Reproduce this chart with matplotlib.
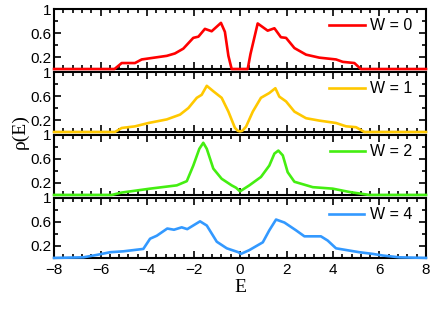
import numpy as np
import matplotlib
matplotlib.use('Agg')
import matplotlib.pyplot as plt
from matplotlib.ticker import MultipleLocator, FixedLocator

# density of states, one series per disorder W
e_w0 = [-8, -5.4, -5.09, -4.52, -4.23, -3.87, -3.15, -2.80, -2.44, -2.01,
        -1.79, -1.51, -1.22, -0.82, -0.65, -0.50, -0.36, 0.33, 0.45, 0.76,
        1.19, 1.48, 1.76, 1.98, 2.34, 2.84, 3.41, 4.13, 4.42, 4.92, 5.20, 8]
rho_w0 = [0, 0, 0.10, 0.10, 0.16, 0.18, 0.22, 0.26, 0.34, 0.52,
          0.54, 0.67, 0.63, 0.77, 0.62, 0.22, 0, 0, 0.25, 0.76,
          0.64, 0.68, 0.53, 0.52, 0.35, 0.24, 0.19, 0.16, 0.12, 0.10, 0, 0]

e_w1 = [-8, -5.38, -5.09, -4.52, -3.94, -3.15, -2.58, -2.22, -1.86, -1.65,
        -1.43, -1.15, -0.79, -0.50, -0.22, -0.1, 0.0, 0.1, 0.26, 0.55,
        0.90, 1.26, 1.52, 1.69, 1.98, 2.34, 2.84, 3.41, 4.13, 4.56, 4.99,
        5.35, 8]
rho_w1 = [0, 0, 0.067, 0.094, 0.15, 0.21, 0.29, 0.40, 0.57, 0.62,
          0.77, 0.68, 0.57, 0.34, 0.07, 0.02, 0.01, 0.02, 0.09, 0.34,
          0.57, 0.65, 0.73, 0.59, 0.51, 0.34, 0.23, 0.19, 0.15, 0.095, 0.08,
          0, 0]

e_w2 = [-8, -5.52, -5.09, -3.87, -2.72, -2.29, -2.01, -1.75, -1.58, -1.43,
        -1.15, -0.79, -0.36, -0.17, 0.0, 0.40, 0.90, 1.26, 1.48, 1.65,
        1.84, 2.05, 2.34, 3.13, 3.99, 4.70, 5.56, 8]
rho_w2 = [0, 0, 0.04, 0.105, 0.16, 0.23, 0.49, 0.77, 0.87, 0.77,
          0.44, 0.27, 0.16, 0.12, 0.06, 0.16, 0.30, 0.49, 0.69, 0.74,
          0.66, 0.38, 0.22, 0.13, 0.105, 0.05, 0, 0]

e_w4 = [-8, -6.74, -6.16, -5.59, -5.02, -4.16, -3.87, -3.58, -3.13, -2.84,
        -2.51, -2.27, -1.72, -1.43, -1.00, -0.57, -0.07, 0.04, 0.40, 0.98,
        1.26, 1.55, 1.91, 2.41, 2.77, 3.48, 3.77, 4.13, 5.13, 5.71, 6.14,
        6.85, 8]
rho_w4 = [0, 0.01, 0.05, 0.095, 0.11, 0.15, 0.32, 0.37, 0.49, 0.47,
          0.51, 0.48, 0.61, 0.54, 0.27, 0.16, 0.095, 0.067, 0.13, 0.26,
          0.46, 0.64, 0.59, 0.46, 0.36, 0.36, 0.29, 0.16, 0.095, 0.067, 0.04,
          0.01, 0]

series = [(e_w0, rho_w0, 'W = 0', '#ff0000'),
          (e_w1, rho_w1, 'W = 1', '#ffc800'),
          (e_w2, rho_w2, 'W = 2', '#44ee11'),
          (e_w4, rho_w4, 'W = 4', '#3399ff')]

plt.rcParams['font.family'] = ['Liberation Sans', 'DejaVu Sans']

fig, axes = plt.subplots(4, 1, sharex=True, figsize=(4.36, 3.13), dpi=100)
fig.subplots_adjust(left=0.124, right=0.977, top=0.971, bottom=0.176,
                    hspace=0.05)

for ax, (e, rho, label, color) in zip(axes, series):
    ax.plot(e, rho, color=color, lw=1.9, label=label, clip_on=False,
            zorder=3, solid_joinstyle='round')
    ax.set_xlim(-8, 8)
    ax.set_ylim(0, 1)
    ax.xaxis.set_major_locator(MultipleLocator(2))
    ax.xaxis.set_minor_locator(MultipleLocator(0.4))
    ax.yaxis.set_major_locator(FixedLocator([0.2, 0.6, 1.0]))
    ax.yaxis.set_minor_locator(FixedLocator([0.4, 0.8]))
    ax.set_yticklabels(['0.2', '0.6', '1'])
    ax.tick_params(which='both', direction='in', top=True, right=True,
                   width=1.2, labelsize=11)
    ax.tick_params(which='major', length=5, pad=2)
    ax.tick_params(which='minor', length=3)
    for sp in ax.spines.values():
        sp.set_linewidth(1.5)
    ax.legend(loc='upper right', frameon=False, fontsize=11.5,
              handlelength=2.2, handletextpad=0.35,
              bbox_to_anchor=(0.985, 0.98), borderaxespad=0.1)

axes[-1].tick_params(axis='x', pad=4)
axes[-1].set_xlabel('E', family='Liberation Serif', fontsize=14, labelpad=1)
fig.text(0.045, 0.58, 'ρ(E)', family='Liberation Serif', fontsize=14,
         rotation=90, ha='center', va='center')

fig.savefig('out.png', dpi=100)
